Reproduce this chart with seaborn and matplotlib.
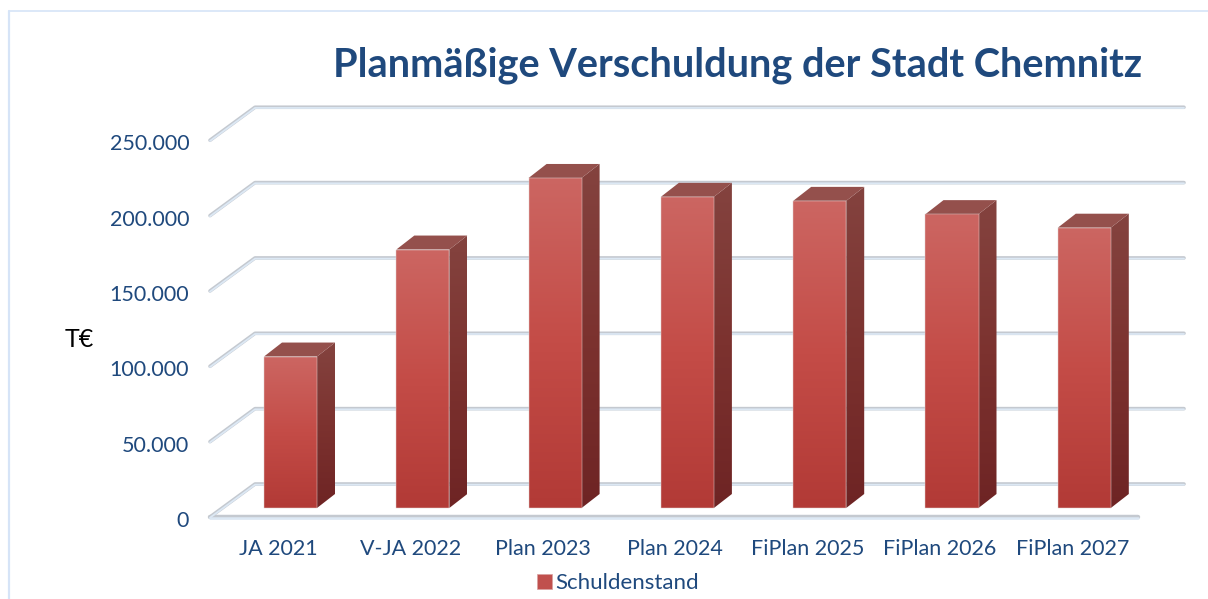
import numpy as np
import pandas as pd
import seaborn as sns
import matplotlib.pyplot as plt
from matplotlib.colors import LinearSegmentedColormap
from matplotlib.lines import Line2D
from matplotlib.patches import Patch, Polygon
from matplotlib.transforms import ScaledTranslation

categories = ['JA 2021', 'V-JA 2022', 'Plan 2023', 'Plan 2024', 'FiPlan 2025', 'FiPlan 2026', 'FiPlan 2027']
values = [100500, 171500, 219000, 206500, 203800, 195000, 186000]
y_ticks = [0, 50000, 100000, 150000, 200000, 250000]
y_tick_labels = ['0', '50.000', '100.000', '150.000', '200.000', '250.000']
series_name = 'Schuldenstand'
title = 'Planmäßige Verschuldung der Stadt Chemnitz'
unit = 'T€'

W, H = 1208, 599
BLUE = '#1F497D'

# pixel layout of the fake 3d box
LEFT, RIGHT, BOTTOM, TOP = 210, 1184, 517, 95
PX_X = 132.3            # px per category
PX_Y = 75.35 / 50000    # px per T€
FIRST = 290.5           # px centre of first bar
BAR_W = 53 / PX_X


def dx(px):
    return px / PX_X


def dy(px):
    return px / PX_Y


sns.set_theme(style='white')
plt.rcParams['font.family'] = ['Lato', 'DejaVu Sans']

fig = plt.figure(figsize=(W / 100, H / 100), dpi=100)
ax = fig.add_axes([LEFT / W, 1 - BOTTOM / H, (RIGHT - LEFT) / W, (BOTTOM - TOP) / H])
ax.patch.set_alpha(0)

df = pd.DataFrame({'cat': categories, 'val': values})
sns.barplot(data=df, x='cat', y='val', ax=ax, width=BAR_W, color='#C0504D', saturation=1,
            bottom=dy(9), zorder=4)

xmin = (LEFT - FIRST) / PX_X
xmax = (RIGHT - FIRST) / PX_X
ymax = (BOTTOM - TOP) / PX_Y
n = len(categories)


def wall_line(xs, ys, zorder=1, wide=2.6, thin=1.3):
    ax.plot(xs, ys, color='#C4C9D0', lw=wide, zorder=zorder, solid_capstyle='round', clip_on=False)
    ax.plot(xs, np.array(ys) - dy(0.7), color='#DCE8F4', lw=thin, zorder=zorder + 0.1,
            solid_capstyle='round', clip_on=False)


# wall and floor lines
for v in y_ticks:
    wall_line([xmin, xmin + dx(45), xmax], [v, v + dy(33), v + dy(33)])
wall_line([xmin, xmax - dx(46)], [0, 0], zorder=1, wide=3.2, thin=1.8)

front_cmap = LinearSegmentedColormap.from_list('front', ['#CC6662', '#C44C47', '#B23A36'])
side_cmap = LinearSegmentedColormap.from_list('side', ['#84433F', '#7C322F', '#6E2424'])
grad = np.linspace(0, 1, 256).reshape(-1, 1)

for bar in ax.patches[:n]:
    x0, y0 = bar.get_x(), bar.get_y()
    x1, y1 = x0 + bar.get_width(), y0 + bar.get_height()
    ddx, ddy = dx(18), dy(14)

    im = ax.imshow(grad, cmap=front_cmap, extent=(x0, x1, y0, y1), aspect='auto', origin='upper', zorder=3)
    im.set_clip_path(bar)
    bar.set_facecolor('none')
    bar.set_edgecolor('#E2CFCE')
    bar.set_linewidth(0.35)

    side = Polygon([(x1, y0), (x1 + ddx, y0 + ddy), (x1 + ddx, y1 + ddy), (x1, y1)],
                   facecolor='none', edgecolor='none', zorder=3.2)
    ax.add_patch(side)
    im2 = ax.imshow(grad, cmap=side_cmap, extent=(x1, x1 + ddx, y0, y1 + ddy), aspect='auto',
                    origin='upper', zorder=3)
    im2.set_clip_path(side)

    ax.add_patch(Polygon([(x0, y1), (x0 + ddx, y1 + ddy), (x1 + ddx, y1 + ddy), (x1, y1)],
                         facecolor='#94504C', edgecolor='none', zorder=3.2))

ax.set_xlim(xmin, xmax)
ax.set_ylim(0, ymax)
sns.despine(ax=ax, left=True, bottom=True)
ax.set_xlabel('')
ax.set_ylabel('')

ax.set_yticks(y_ticks)
ax.set_yticklabels(y_tick_labels, fontsize=15.5, color=BLUE)
ax.tick_params(axis='y', length=0, pad=15)
ax.set_xticks(range(n))
ax.set_xticklabels(categories, fontsize=15.5, color=BLUE)
ax.tick_params(axis='x', length=0, pad=16)
shift = ScaledTranslation(-12 / 100, 0, fig.dpi_scale_trans)
for lab in ax.get_xticklabels():
    lab.set_transform(lab.get_transform() + shift)
down = ScaledTranslation(0, -2 / 100, fig.dpi_scale_trans)
for lab in ax.get_yticklabels():
    lab.set_transform(lab.get_transform() + down)

fig.text(738 / W, 1 - 65.5 / H, title, fontsize=28.6, fontweight='bold', color=BLUE, ha='center', va='center')
fig.text(79 / W, 1 - 340 / H, unit, fontsize=18, color='black', ha='center', va='center')

fig.legend(handles=[Patch(facecolor='#C0504D', edgecolor='#D8A0A0', lw=0.5, label=series_name)],
           loc='center', bbox_to_anchor=(618 / W, 1 - 583 / H), frameon=False, fontsize=16,
           labelcolor=BLUE, handlelength=0.65, handleheight=0.65, handletextpad=0.15,
           borderpad=0, borderaxespad=0)

# page border of the slide
fig.add_artist(Line2D([9 / W, 9 / W], [0, 1 - 10.5 / H], transform=fig.transFigure, color='#D6E4F7', lw=1.6))
fig.add_artist(Line2D([9 / W, 1], [1 - 10.5 / H, 1 - 10.5 / H], transform=fig.transFigure, color='#D6E4F7', lw=1.2))

fig.savefig('out.png', dpi=100)
